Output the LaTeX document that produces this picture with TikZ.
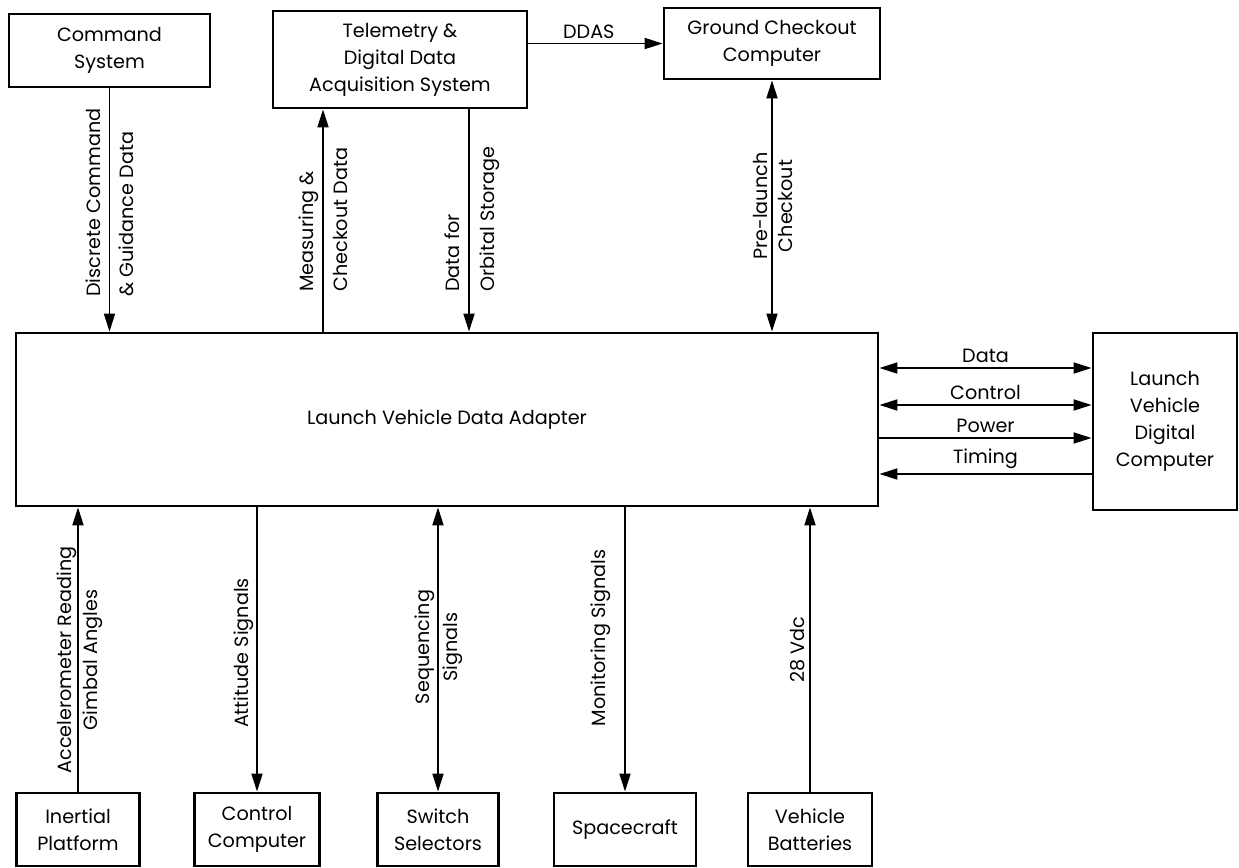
\documentclass[tikz,border=0pt]{standalone}
\usepackage{fontspec}
\setmainfont{Poppins}
\usetikzlibrary{arrows.meta,positioning}

\tikzset{
  blk/.style={draw,line width=1.4pt,inner sep=0pt,align=center},
  sig/.style={line width=0.9pt,-{Triangle[length=9pt,width=5.5pt]}},
  dsig/.style={line width=0.9pt,{Triangle[length=9pt,width=5.5pt]}-{Triangle[length=9pt,width=5.5pt]}},
  lsig/.style={line width=0.9pt,{Triangle[length=9pt,width=5.5pt]}-},
  vlbl/.style={rotate=90,inner sep=0pt},
}

\begin{document}
\begin{tikzpicture}[x=0.5pt,y=-0.5pt,font=\fontsize{9.6}{13.5}\selectfont]
\useasboundingbox (0,0) rectangle (1239,868);
% top row
\node[blk,minimum width=100.5pt,minimum height=36.5pt] (cmd) at (109.5,50.5) {Command\\System};
\node[blk,minimum width=127pt,minimum height=48.5pt] (tel) at (400,59.5) {Telemetry \&\\Digital Data\\Acquisition System};
\node[blk,minimum width=108pt,minimum height=35.5pt] (gco) at (772,43.5) {Ground Checkout\\Computer};
% adapter and computer
\node[blk,minimum width=431pt,minimum height=86.5pt] (lvda) at (447,419.5) {Launch Vehicle Data Adapter};
\node[blk,minimum width=72pt,minimum height=88.5pt] (lvdc) at (1165,421.5) {Launch\\Vehicle\\Digital\\Computer};
% bottom row
\foreach \n/\x/\w/\t in {inp/78/61.5/{Inertial\\Platform},ccp/257/62.5/{Control\\Computer},sws/438/60.5/{Switch\\Selectors},spc/625/71/{Spacecraft},vbt/810/62/{Vehicle\\Batteries}}
  \node[blk,minimum width=\w pt,minimum height=36.5pt] (\n) at (\x,829.5) {\t};

% links to the top row
\coordinate (msr) at (323,0);
\coordinate (orb) at (469,0);
\draw[sig] (cmd.south) -- (cmd.south |- lvda.north);
\draw[sig] (msr |- lvda.north) -- (msr |- tel.south);
\draw[sig] (orb |- tel.south) -- (orb |- lvda.north);
\draw[dsig] (gco.south) -- (gco.south |- lvda.north);
\draw[sig] (tel.east |- gco.west) -- node[above,inner sep=2pt,pos=0.45] (ddas) {DDAS} (gco.west);

% links to the computer
\foreach \y/\l/\s in {368/Data/dsig,405/Control/dsig,438/Power/sig,474/Timing/lsig}
  \draw[\s] (lvda.east |- 0,\y) -- node[above,inner sep=2pt] (lbl\l) {\l} (lvdc.west |- 0,\y);

% links to the bottom row
\draw[sig] (inp.north) -- (inp.north |- lvda.south);
\draw[sig] (ccp.north |- lvda.south) -- (ccp.north);
\draw[dsig] (sws.north |- lvda.south) -- (sws.north);
\draw[sig] (spc.north |- lvda.south) -- (spc.north);
\draw[sig] (vbt.north) -- (vbt.north |- lvda.south);

% rotated labels
\node[vlbl,anchor=west,align=left,font=\fontsize{9.6}{16.5}\selectfont] (lblcmd) at (109.5,297) {Discrete Command\\\& Guidance Data};
\node[vlbl,anchor=west,align=left,font=\fontsize{9.6}{17}\selectfont] (lblmsr) at (323,292) {Measuring \&\\Checkout Data};
\node[vlbl,anchor=west,align=left,font=\fontsize{9.6}{17.5}\selectfont] (lblorb) at (472.5,292) {Data for\\Orbital Storage};
\node[vlbl,align=center,font=\fontsize{9.6}{12.5}\selectfont] (lblpre) at (772.5,206) {Pre-launch\\Checkout};
\node[vlbl,align=center,font=\fontsize{9.6}{13}\selectfont] (lblacc) at (80,660) {Accelerometer Reading\\Gimbal Angles};
\node[vlbl] (lblatt) at (244,653) {Attitude Signals};
\node[vlbl,align=center,font=\fontsize{9.6}{14}\selectfont] (lblseq) at (439,647) {Sequencing\\Signals};
\node[vlbl] (lblmon) at (601,638) {Monitoring Signals};
\node[vlbl] (lblvdc) at (798,650) {28 Vdc};
\end{tikzpicture}
\end{document}
